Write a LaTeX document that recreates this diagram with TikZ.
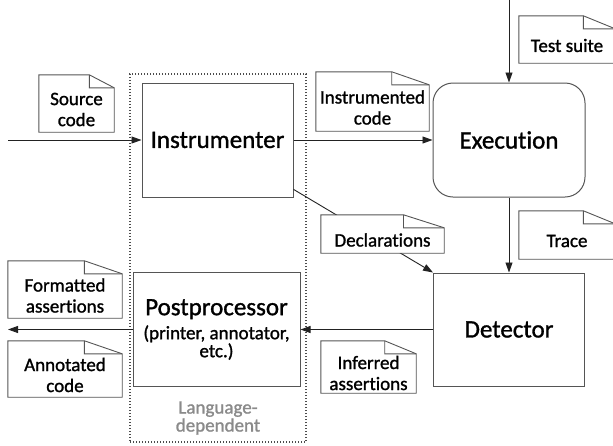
\documentclass[tikz,border=0pt]{standalone}
\usepackage{fontspec}
\setmainfont{Carlito}[Ligatures=NoCommon, FakeBold=1.2]
\usepackage{tikz}
\usetikzlibrary{positioning, arrows.meta, calc}

\definecolor{boxline}{HTML}{555555}
\definecolor{flowline}{HTML}{222222}
\definecolor{langtext}{HTML}{8A8A8A}
\newcommand{\bigfont}{\fontsize{25}{28}\selectfont}
\newcommand{\notefont}{\fontsize{19}{21}\selectfont}
\newcommand{\tightfont}{\fontsize{19}{18}\selectfont}

\begin{document}
\begin{tikzpicture}[
    x=1pt, y=-1pt,
    stage/.style={rectangle, draw=boxline, line width=1pt, fill=white, align=center, font=\bigfont},
    note/.style={rectangle, fill=white, inner sep=0pt},
    notetext/.style={fill=none, minimum width=0pt, minimum height=0pt, inner sep=1pt,
        align=center, font=\notefont, yshift=-6pt},
    noteline/.style={boxline, line width=0.9pt},
    flow/.style={-{Triangle[length=10pt, width=7pt]}, line width=0.9pt, flowline},
]
\useasboundingbox (0,0) rectangle (613,445);
\clip (0,0) rectangle (613,445);

% language-dependent part
\node[draw=black!70, line width=1.1pt, dash pattern=on 1.1pt off 1.9pt, minimum width=176pt, minimum height=368pt] (langdep) at (218,258) {};
\node[font=\tightfont, text=langtext, align=center] (langlbl) at (218,418) {Language-\\dependent};

% stages
\node[stage, minimum width=151pt, minimum height=114pt] (instr) at (217.5,140) {Instrumenter};
\node[stage, rounded corners=20pt, minimum width=152pt, minimum height=114pt] (exec) at (509,140) {Execution};
\node[stage, minimum width=151pt, minimum height=113pt] (detect) at (509,329.5) {Detector};
\node[stage, font=\tightfont, minimum width=167pt, minimum height=114pt] (post) at (216.5,329.5)
    {{\bigfont Postprocessor}\\[6pt](printer, annotator,\\etc.)};

% flow
\coordinate (srcin) at (8,140);
\coordinate (suitein) at (509,0);
\coordinate (outend) at (8,329.5);
\draw[flow] (srcin) -- (instr);
\draw[flow] (instr) -- (exec);
\draw[flow] (suitein) -- (exec);
\draw[flow] (exec) -- (detect);
\draw[flow] (instr.-33) -- (detect.north west);
\draw[flow] (detect) -- (post);
\draw[flow] (post) -- (outend);

% documents
\node[note, minimum width=75pt, minimum height=57pt, label={[notetext]center:Source\\code}] (src) at (76.5,103.5) {};
\node[note, minimum width=113pt, minimum height=59pt, label={[notetext]center:Instrumented\\code}] (instrcode) at (372.5,101.5) {};
\node[note, minimum width=96pt, minimum height=47pt, label={[notetext]center:Test suite}] (tests) at (567,39.5) {};
\node[note, minimum width=96pt, minimum height=48pt, label={[notetext]center:Trace}] (trace) at (567,235) {};
\node[note, minimum width=123pt, minimum height=38pt, label={[notetext]center:Declarations}] (decl) at (382.5,234) {};
\node[note, minimum width=114pt, minimum height=57pt, label={[notetext]center:Formatted\\assertions}] (fmt) at (65,289.5) {};
\node[note, minimum width=114pt, minimum height=56pt, label={[notetext]center:Annotated\\code}] (annot) at (65,369) {};
\node[note, minimum width=95pt, minimum height=52pt, label={[notetext]center:Inferred\\assertions}] (infer) at (368.5,367) {};

% folded corners
\foreach \doc in {src, instrcode, tests, trace, decl, fmt, annot, infer} {
    \coordinate (fold) at ($(\doc.north west)!0.67!(\doc.north east)$);
    \draw[noteline] (\doc.north west) -- (fold) -- ($(\doc.north east)+(0,13)$)
        -- (\doc.south east) -- (\doc.south west) -- cycle;
    \draw[noteline] (fold) -- ++(0,13) -- ($(\doc.north east)+(0,13)$);
}

\end{tikzpicture}
\end{document}
